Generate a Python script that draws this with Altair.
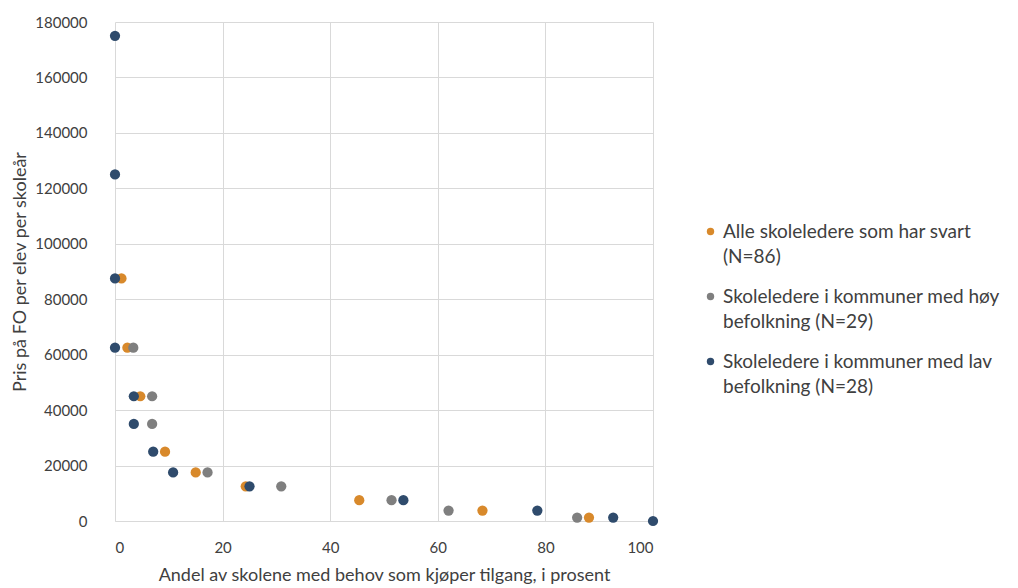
import altair as alt
import pandas as pd

series_names = [
    "Alle skoleledere som har svart (N=86)",
    "Skoleledere i kommuner med høy befolkning (N=29)",
    "Skoleledere i kommuner med lav befolkning (N=28)",
]

alle_x = [1.2, 2.3, 4.7, 9.3, 15.0, 24.3, 45.4, 68.3, 88.1]
alle_y = [87500, 62500, 45000, 25000, 17500, 12500, 7500, 3750, 1250]

hoy_x = [3.4, 6.9, 6.9, 17.2, 30.9, 51.4, 62.0, 85.9]
hoy_y = [62500, 45000, 35000, 17500, 12500, 7500, 3750, 1250]

lav_x = [0, 0, 0, 0, 3.5, 3.5, 7.1, 10.8, 25.0, 53.6, 78.5, 92.6, 100]
lav_y = [175000, 125000, 87500, 62500, 45000, 35000, 25000, 17500, 12500, 7500, 3750, 1250, 0]

colors = ["#D8892B", "#7F7F7F", "#2F4B6C"]

rows = []
for i, (name, xs, ys) in enumerate(zip(series_names, [alle_x, hoy_x, lav_x], [alle_y, hoy_y, lav_y])):
    for x, y in zip(xs, ys):
        rows.append({"serie": name, "andel": x, "pris": y, "ord": i})
df = pd.DataFrame(rows)

label_expr = (
    f"datum.label == '{series_names[0]}' ? ['Alle skoleledere som har svart', '(N=86)'] : "
    f"datum.label == '{series_names[1]}' ? ['Skoleledere i kommuner med høy', 'befolkning (N=29)'] : "
    "['Skoleledere i kommuner med lav', 'befolkning (N=28)']"
)

font = "Lato"
text_color = "#404040"

chart = alt.Chart(df).mark_circle(size=105, opacity=1).encode(
    x=alt.X(
        "andel:Q",
        scale=alt.Scale(domain=[0, 100], nice=False),
        axis=alt.Axis(
            title="Andel av skolene med behov som kjøper tilgang, i prosent",
            values=[0, 20, 40, 60, 80, 100],
            grid=True, ticks=False, domain=True, domainColor="#D9D9D9",
            labelPadding=19, titlePadding=11,
        ),
    ),
    y=alt.Y(
        "pris:Q",
        scale=alt.Scale(domain=[0, 180000], nice=False),
        axis=alt.Axis(
            title="Pris på FO per elev per skoleår",
            values=list(range(0, 180001, 20000)),
            format="d",
            grid=True, ticks=False, domain=False,
            labelPadding=28, titlePadding=5,
        ),
    ),
    color=alt.Color(
        "serie:N",
        scale=alt.Scale(domain=series_names, range=colors),
        legend=alt.Legend(
            title=None, orient="none", legendX=586, legendY=200,
            labelExpr=label_expr, symbolType="circle", symbolSize=55,
            labelFontSize=19, labelFont=font, labelColor=text_color,
            labelLimit=400, rowPadding=20, labelOffset=3,
        ),
    ),
    order=alt.Order("ord:Q"),
).properties(
    width=538, height=499,
    autosize=alt.AutoSizeParams(type="none"),
    padding={"left": 107, "top": 14, "right": 357, "bottom": 75},
).configure(
    style={"guide-label": {"lineHeight": 25}},
    view=alt.ViewConfig(stroke=None),
    axis=alt.AxisConfig(
        gridColor="#D9D9D9", labelFont=font, titleFont=font,
        labelFontSize=15, titleFontSize=18, labelColor=text_color,
        titleColor=text_color, titleFontWeight="normal",
    ),
)

chart.save("out.html", embed_options={"renderer": "svg", "actions": False})
